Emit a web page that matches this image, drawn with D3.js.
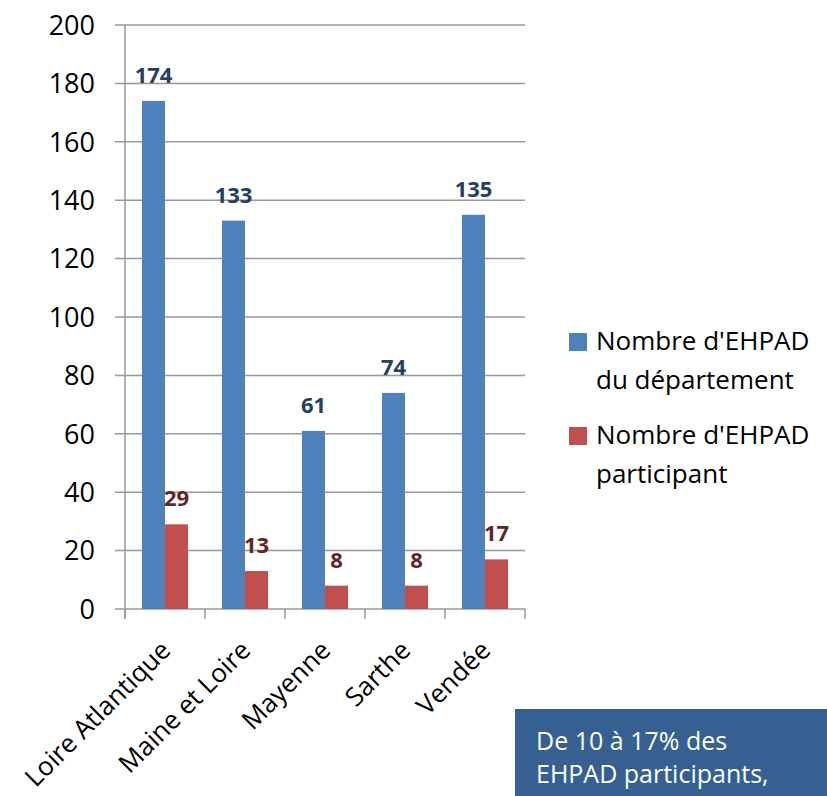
<!DOCTYPE html>
<html>
<head>
<meta charset="utf-8">
<script src="https://cdn.jsdelivr.net/npm/d3@7"></script>
<style>
  body { margin: 0; background: #fff; }
  svg text { font-family: "Open Sans", sans-serif; }
</style>
</head>
<body>
<div id="chart"></div>
<script>
const departements = ['Loire Atlantique', 'Maine et Loire', 'Mayenne', 'Sarthe', 'Vendée']
const nbDepartement = [174, 133, 61, 74, 135]
const nbParticipant = [29, 13, 8, 8, 17]
const seriesNames = ["Nombre d'EHPAD du département", "Nombre d'EHPAD participant"]
const yTicks = [0, 20, 40, 60, 80, 100, 120, 140, 160, 180, 200]
const noteLines = ['De 10 à 17% des', 'EHPAD participants,']

const colors = ['#4F81BD', '#C0504D']
const labelColors = ['#243F60', '#632523']

const W = 827, H = 796
const svg = d3.select('#chart').append('svg')
    .attr('width', W)
    .attr('height', H)

const x0 = d3.scaleBand()
    .domain(departements)
    .range([125, 525])
    .padding(0)

const x1 = d3.scaleBand()
    .domain([0, 1])
    .range([17, 63])

const y = d3.scaleLinear()
    .domain([0, 200])
    .range([609, 25])

// gridlines
svg.append('g').selectAll('line').data(yTicks)
  .enter().append('line')
    .attr('x1', 115)
    .attr('x2', 525)
    .attr('y1', d => y(d))
    .attr('y2', d => y(d))
    .attr('stroke', '#999')
    .attr('stroke-width', 1.5)

// y axis line
svg.append('line')
    .attr('x1', 125).attr('x2', 125)
    .attr('y1', y(200)).attr('y2', y(0) + 10)
    .attr('stroke', '#999')
    .attr('stroke-width', 1.5)

// y tick labels
svg.append('g').selectAll('text').data(yTicks)
  .enter().append('text')
    .attr('x', 95)
    .attr('y', d => y(d))
    .attr('dy', '0.36em')
    .attr('text-anchor', 'end')
    .attr('font-size', 27)
    .attr('fill', '#000')
    .text(d => d)

// x ticks
const xTickPos = departements.map(d => x0(d)).concat([x0.range()[1]])
svg.append('g').selectAll('line').data(xTickPos)
  .enter().append('line')
    .attr('x1', d => d).attr('x2', d => d)
    .attr('y1', y(0)).attr('y2', y(0) + 10)
    .attr('stroke', '#999')
    .attr('stroke-width', 1.5)

const rows = departements.map((d, i) => ({ dep: d, values: [nbDepartement[i], nbParticipant[i]] }))

const groups = svg.append('g').selectAll('g').data(rows)
  .enter().append('g')
    .attr('transform', d => `translate(${x0(d.dep)},0)`)

groups.selectAll('rect').data(d => d.values)
  .enter().append('rect')
    .attr('x', (v, i) => x1(i))
    .attr('y', v => y(v))
    .attr('width', x1.bandwidth())
    .attr('height', v => y(0) - y(v))
    .attr('fill', (v, i) => colors[i])

groups.selectAll('text').data(d => d.values)
  .enter().append('text')
    .attr('x', (v, i) => x1(i) + x1.bandwidth() / 2)
    .attr('y', v => y(v) - 18)
    .attr('text-anchor', 'middle')
    .attr('font-size', 22)
    .attr('font-weight', 'bold')
    .attr('fill', (v, i) => labelColors[i])
    .text(v => v)

// x labels, rotated
svg.append('g').selectAll('text').data(departements)
  .enter().append('text')
    .attr('transform', d => `translate(${x0(d) + x0.bandwidth() / 2 + 7},${y(0) + 43}) rotate(-45)`)
    .attr('text-anchor', 'end')
    .attr('font-size', 26)
    .attr('fill', '#000')
    .text(d => d)

// legend
const legendLines = [["Nombre d'EHPAD", 'du département'], ["Nombre d'EHPAD", 'participant']]
const legend = svg.append('g')
legendLines.forEach((lines, i) => {
    const top = 333 + i * 94
    legend.append('rect')
        .attr('x', 569).attr('y', top)
        .attr('width', 18).attr('height', 18)
        .attr('fill', colors[i])
    lines.forEach((t, j) => {
        legend.append('text')
            .attr('x', 596)
            .attr('y', top + 17 + j * 39)
            .attr('font-size', 26)
            .attr('fill', '#000')
            .text(t)
    })
})

// note box at bottom right
svg.append('rect')
    .attr('x', 515).attr('y', 709)
    .attr('width', W - 515).attr('height', H - 709)
    .attr('fill', '#366092')

svg.append('g').selectAll('text').data(noteLines)
  .enter().append('text')
    .attr('x', 536)
    .attr('y', (d, i) => 750 + i * 33)
    .attr('font-size', 25)
    .attr('fill', '#fff')
    .text(d => d)
</script>
</body>
</html>
